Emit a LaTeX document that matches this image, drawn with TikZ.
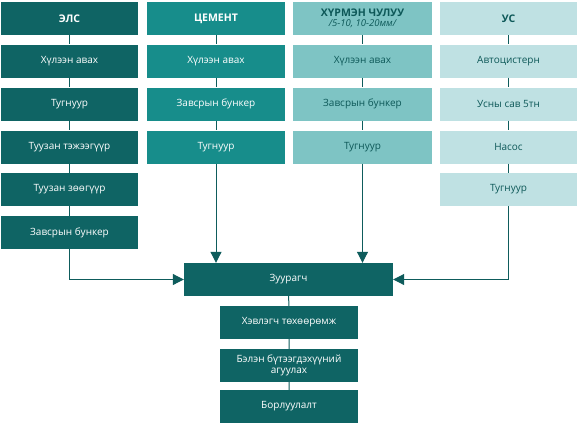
\documentclass[tikz,border=0pt]{standalone}
\usepackage{fontspec}
\setmainfont{Open Sans}
\usetikzlibrary{arrows.meta}
\definecolor{cA}{HTML}{0F6464}
\definecolor{cB}{HTML}{178D8B}
\definecolor{cC}{HTML}{7EC4C4}
\definecolor{cD}{HTML}{BFE1E3}
\definecolor{ln}{HTML}{0E5C5C}
\definecolor{tx}{HTML}{0D5858}
\begin{document}
\begin{tikzpicture}[x=1pt,y=-1pt,
  bx/.style={rectangle,minimum width=137pt,minimum height=33pt,inner sep=0pt,align=center,font=\fontsize{10}{11.5}\selectfont},
  hd/.style={bx,font=\fontsize{10.5}{10.5}\selectfont\bfseries},
  wA/.style={fill=cA,text=white},
  wB/.style={fill=cB,text=white},
  wC/.style={fill=cC,text=tx},
  wD/.style={fill=cD,text=tx},
  cn/.style={draw=ln,line width=1pt},
  arr/.style={cn,-{Triangle[length=11pt,width=11pt]}}]
\useasboundingbox (0,0) rectangle (580,429);
\fill[white] (0,0) rectangle (580,429);
% column 1
\node[hd,wA] (E0) at (69.5,18.5) {ЭЛС};
\node[bx,wA] (E1) at (69.5,61) {Хүлээн авах};
\node[bx,wA] (E2) at (69.5,104) {Тугнуур};
\node[bx,wA] (E3) at (69.5,147) {Туузан тэжээгүүр};
\node[bx,wA] (E4) at (69.5,189.5) {Туузан зөөгүүр};
\node[bx,wA] (E5) at (69.5,232.5) {Завсрын бункер};
% column 2
\node[hd,wB,minimum width=138pt] (C0) at (216,18.5) {ЦЕМЕНТ};
\node[bx,wB,minimum width=138pt] (C1) at (216,61) {Хүлээн авах};
\node[bx,wB,minimum width=138pt] (C2) at (216,104) {Завсрын бункер};
\node[bx,wB,minimum width=138pt] (C3) at (216,147) {Тугнуур};
% column 3
\node[hd,wC,minimum width=139pt] (H0) at (362.5,18.5) {ХҮРМЭН ЧУЛУУ\\[-1pt]{\mdseries\itshape\fontsize{9.5}{10}\selectfont /5-10, 10-20мм/}};
\node[bx,wC,minimum width=139pt] (H1) at (362.5,61) {Хүлээн авах};
\node[bx,wC,minimum width=139pt] (H2) at (362.5,104) {Завсрын бункер};
\node[bx,wC,minimum width=139pt] (H3) at (362.5,147) {Тугнуур};
% column 4
\node[hd,wD] (U0) at (508.5,18.5) {УС};
\node[bx,wD] (U1) at (508.5,61) {Автоцистерн};
\node[bx,wD] (U2) at (508.5,104) {Усны сав 5тн};
\node[bx,wD] (U3) at (508.5,147) {Насос};
\node[bx,wD] (U4) at (508.5,189.5) {Тугнуур};
% bottom chain
\node[bx,wA,minimum width=209pt] (Z) at (288.5,279.5) {Зуурагч};
\node[bx,wA,minimum width=138pt] (K1) at (289,322.5) {Хэвлэгч төхөөрөмж};
\node[bx,wA,minimum width=138pt,font=\fontsize{10}{10.5}\selectfont] (K2) at (289,365.5) {Бэлэн бүтээгдэхүүний\\агуулах};
\node[bx,wA,minimum width=138pt] (K3) at (289,406.5) {Борлуулалт};
% column links
\draw[cn] (E0) -- (E1) (E1) -- (E2) (E2) -- (E3) (E3) -- (E4) (E4) -- (E5);
\draw[cn] (C0) -- (C1) (C1) -- (C2) (C2) -- (C3);
\draw[cn] (H0) -- (H1) (H1) -- (H2) (H2) -- (H3);
\draw[cn] (U0) -- (U1) (U1) -- (U2) (U2) -- (U3) (U3) -- (U4);
\draw[cn] (Z) -- (K1) (K1) -- (K2) (K2) -- (K3);
% arrows into mixer
\draw[arr] (E5.south) |- (Z.west);
\draw[arr] (C3.south) -- (C3.south |- Z.north);
\draw[arr] (H3.south) -- (H3.south |- Z.north);
\draw[arr] (U4.south) |- (Z.east);
\end{tikzpicture}
\end{document}
